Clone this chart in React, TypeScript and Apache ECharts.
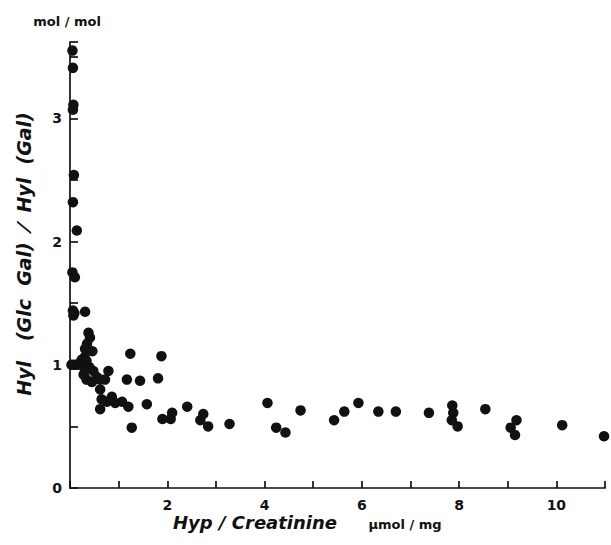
import React, { useEffect, useRef } from "react";
import * as echarts from "echarts";

// Hyp / Creatinine (µmol/mg)
const hypCreatinine = [
  0.05, 0.06, 0.07, 0.06, 0.08, 0.06, 0.14, 0.05, 0.1, 0.06, 0.07, 0.09, 0.31,
  0.03, 0.08, 0.13, 0.18, 0.22, 0.24, 0.3, 0.34, 0.38, 0.41, 0.35, 0.31, 0.46,
  0.3, 0.31, 0.28, 0.34, 0.45, 0.48, 0.4, 0.55, 0.62, 0.72, 0.79, 0.62, 0.65,
  0.62, 0.76, 0.86, 0.93, 1.07, 1.2, 1.17, 1.24, 1.27, 1.44, 1.58, 1.81, 1.88,
  1.9, 2.07, 2.1, 2.41, 2.68, 2.74, 2.84, 3.28, 4.06, 4.24, 4.43, 4.74, 5.43,
  5.64, 5.93, 6.34, 6.7, 7.38, 7.86, 7.88, 7.85, 7.97, 8.54, 9.06, 9.18, 9.15,
  10.12, 10.98,
];
// Hyl(Glc Gal) / Hyl(Gal) (mol/mol)
const hylRatio = [
  3.55, 3.41, 3.11, 3.07, 2.54, 2.32, 2.09, 1.75, 1.71, 1.44, 1.4, 1.42, 1.43,
  1.0, 1.0, 1.0, 1.0, 1.02, 1.04, 1.06, 1.03, 1.26, 1.22, 1.17, 1.13, 1.11,
  0.98, 0.95, 0.92, 0.88, 0.86, 0.95, 0.98, 0.9, 0.88, 0.88, 0.95, 0.8, 0.72,
  0.64, 0.7, 0.74, 0.69, 0.7, 0.66, 0.88, 1.09, 0.49, 0.87, 0.68, 0.89, 1.07,
  0.56, 0.56, 0.61, 0.66, 0.55, 0.6, 0.5, 0.52, 0.69, 0.49, 0.45, 0.63, 0.55,
  0.62, 0.69, 0.62, 0.62, 0.61, 0.67, 0.61, 0.55, 0.5, 0.64, 0.49, 0.55, 0.43,
  0.51, 0.42,
];

const xLabelValues = [2, 4, 6, 8, 10];
const yLabelValues = [0, 1, 2, 3];

const FONT = "'DejaVu Sans', Verdana, sans-serif";
const INK = "#111111";

export default function App() {
  const ref = useRef<HTMLDivElement>(null);

  useEffect(() => {
    if (!ref.current) return;
    const chart = echarts.init(ref.current, undefined, { renderer: "svg" });
    const points = hypCreatinine.map((x, i) => [x, hylRatio[i]]);
    chart.setOption({
      animation: false,
      backgroundColor: "#ffffff",
      grid: { left: 70, right: 6, top: 42, bottom: 57, containLabel: false },
      xAxis: {
        type: "value",
        min: 0,
        max: 11,
        interval: 1,
        axisLine: { show: true, lineStyle: { color: INK, width: 1.7 } },
        axisTick: { show: true, inside: true, length: 7, lineStyle: { color: INK, width: 1.7 } },
        splitLine: { show: false },
        axisLabel: {
          margin: 10,
          color: INK,
          fontFamily: FONT,
          fontWeight: "bold",
          fontSize: 14,
          formatter: (v: number) => (xLabelValues.includes(v) ? String(v) : ""),
        },
      },
      yAxis: {
        type: "value",
        min: 0,
        max: 3.62,
        interval: 0.5,
        axisLine: { show: true, lineStyle: { color: INK, width: 1.7 } },
        axisTick: { show: true, inside: true, length: 8, lineStyle: { color: INK, width: 1.7 } },
        splitLine: { show: false },
        axisLabel: {
          margin: 8,
          color: INK,
          fontFamily: FONT,
          fontWeight: "bold",
          fontSize: 14,
          formatter: (v: number) => (yLabelValues.includes(v) ? String(v) : ""),
        },
      },
      series: [
        {
          type: "scatter",
          data: points,
          symbol: "circle",
          symbolSize: 10.5,
          itemStyle: { color: INK, opacity: 1 },
        },
      ],
      graphic: [
        {
          type: "text",
          x: 67,
          y: 21,
          style: {
            text: "mol / mol",
            fill: INK,
            font: `bold 13px ${FONT}`,
            align: "center",
            verticalAlign: "middle",
          },
        },
        {
          type: "text",
          x: 24,
          y: 254,
          rotation: Math.PI / 2,
          style: {
            text: "Hyl   (Glc  Gal)  ⁄  Hyl  (Gal)",
            fill: INK,
            font: `italic bold 19px ${FONT}`,
            align: "center",
            verticalAlign: "middle",
          },
        },
        {
          type: "text",
          x: 255,
          y: 522,
          style: {
            text: "Hyp / Creatinine",
            fill: INK,
            font: `italic bold 18px ${FONT}`,
            align: "center",
            verticalAlign: "middle",
          },
        },
        {
          type: "text",
          x: 405,
          y: 524,
          style: {
            text: "µmol / mg",
            fill: INK,
            font: `bold 13px ${FONT}`,
            align: "center",
            verticalAlign: "middle",
          },
        },
      ],
    });
    return () => chart.dispose();
  }, []);

  return (
    <div
      ref={ref}
      style={{ width: 611, height: 545, position: "absolute", left: 0, top: 0 }}
    />
  );
}
